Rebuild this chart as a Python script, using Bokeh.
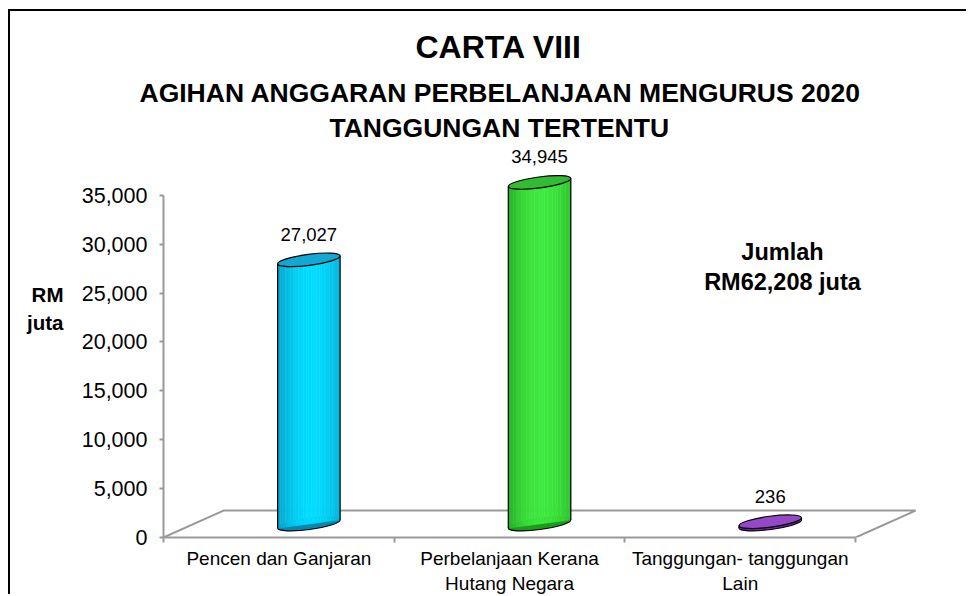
import math
from bokeh.plotting import figure
from bokeh.models import Range1d, FixedTicker, Label, NumeralTickFormatter, Title, LinearAxis
from bokeh.embed import file_html
from bokeh.resources import INLINE
from bokeh.core.properties import value

# ---------------- data ----------------
categories = ["Pencen dan Ganjaran", "Perbelanjaan Kerana\nHutang Negara", "Tanggungan- tanggungan\nLain"]
values = [27027, 34945, 236]
y_ticks = [0, 5000, 10000, 15000, 20000, 25000, 30000, 35000]
title_text = "CARTA VIII"
subtitle_lines = ["AGIHAN ANGGARAN PERBELANJAAN MENGURUS 2020", "TANGGUNGAN TERTENTU"]
unit_text = "RM\njuta"
total_caption = "Jumlah"

# ---------------- styles / geometry ----------------
FONT = "Liberation Sans"
body_dark = ["#0a86ae", "#1c9a1c", "#6a2c98"]
body_light = ["#00dcff", "#3ee83e", "#a060d8"]
cap_colors = ["#12a8d2", "#33bc33", "#9548c8"]
GRAY = "#999999"

OX, OY = 10, 11                 # canvas origin on the page (after margin + border)
W, H = 958, 585
AXIS_X, AXIS_Y0, FRAME_TOP = 163, 538, 145   # page coords
LEFT = AXIS_X - OX
BOTTOM = OY + H - AXIS_Y0
TOP = FRAME_TOP - OY
frame_w = W - LEFT
frame_h = AXIS_Y0 - FRAME_TOP
px_x = 230.7                 # pixels per category
px_y = 343.0 / 35000.0       # pixels per unit of value
x0 = -0.5
x1 = x0 + frame_w / px_x
y1 = frame_h / px_y

depth_dx, depth_dy = 60.0, 27.0     # 3D floor depth in px
cyl_w, cap_h, tilt = 63.0, 11.0, 0.13

def dx(px):
    return px / px_x

def dy(px):
    return px / px_y

p = figure(width=W, height=H, output_backend="svg", toolbar_location=None,
           x_range=Range1d(x0, x1), y_range=Range1d(0, y1),
           min_border_left=LEFT, min_border_bottom=BOTTOM,
           min_border_top=TOP, min_border_right=0)
p.outline_line_color = None
p.xgrid.visible = False
p.ygrid.visible = False
p.background_fill_color = "white"
p.border_fill_color = "white"
p.styles = {"margin-left": "8px", "margin-top": "9px",
            "border-top": "2px solid black", "border-left": "2px solid black"}

# ---------------- titles (added closest-to-plot first) ----------------
p.add_layout(Title(text=subtitle_lines[1], align="left", offset=166, standoff=6,
                   text_font=FONT, text_font_size="26.5px", text_font_style="bold",
                   text_color="black"), "above")
p.add_layout(Title(text=subtitle_lines[0], align="left", offset=-24, standoff=0,
                   text_font=FONT, text_font_size="26.5px", text_font_style="bold",
                   text_color="black"), "above")
p.add_layout(Title(text=title_text, align="left", offset=252, standoff=21,
                   text_font=FONT, text_font_size="32px", text_font_style="bold",
                   text_color="black"), "above")

# ---------------- floor ----------------
n = len(categories)
fx0, fx1 = -0.5, n - 0.5
p.line([fx0, fx0 + dx(depth_dx), fx1 + dx(depth_dx), fx1],
       [0, dy(depth_dy), dy(depth_dy), 0], line_color=GRAY, line_width=2)

# ---------------- cylinders ----------------
def mix(c1, c2, t):
    a = [int(c1[i:i + 2], 16) for i in (1, 3, 5)]
    b = [int(c2[i:i + 2], 16) for i in (1, 3, 5)]
    return "#%02x%02x%02x" % tuple(int(round(a[k] + (b[k] - a[k]) * t)) for k in range(3))

NS = 24
half = cyl_w / 2 * math.cos(tilt)
slope = math.tan(tilt)
xs, ys, cols = [], [], []
centers_x, bases, tops = [], [], []
for i, v in enumerate(values):
    xc = i + dx(depth_dx / 2)
    yb = dy(depth_dy / 2)
    yt = yb + v
    centers_x.append(xc); bases.append(yb); tops.append(yt)
    for j in range(NS):
        u0 = -half + 2 * half * j / NS
        u1 = -half + 2 * half * (j + 1) / NS
        s = (j + 0.5) / NS
        t = max(0.0, 1 - ((s - 0.55) / 0.65) ** 2)
        xs.append([xc + dx(u0), xc + dx(u1), xc + dx(u1), xc + dx(u0)])
        ys.append([yb + dy(u0 * slope), yb + dy(u1 * slope), yt + dy(u1 * slope), yt + dy(u0 * slope)])
        cols.append(mix(body_dark[i], body_light[i], t))

p.ellipse(x=centers_x, y=bases, width=cyl_w, height=cap_h, angle=tilt,
          width_units="screen", height_units="screen",
          fill_color=body_dark, line_color="black", line_width=1.2)
p.patches(xs, ys, fill_color=cols, line_color=cols, line_width=0.5)
lx = [c - dx(half) for c in centers_x]
rx = [c + dx(half) for c in centers_x]
p.segment(x0=lx, y0=[b - dy(half * slope) for b in bases], x1=lx, y1=[t - dy(half * slope) for t in tops],
          line_color="black", line_width=1.2)
p.segment(x0=rx, y0=[b + dy(half * slope) for b in bases], x1=rx, y1=[t + dy(half * slope) for t in tops],
          line_color="black", line_width=1.2)
p.ellipse(x=centers_x, y=tops, width=cyl_w, height=cap_h, angle=tilt,
          width_units="screen", height_units="screen",
          fill_color=cap_colors, line_color="black", line_width=1.2)

p.text(x=centers_x, y=tops, text=[f"{v:,}" for v in values],
       text_align="center", text_baseline="bottom", y_offset=-19,
       text_font=value(FONT), text_font_size="18.5px", text_color="black")

# ---------------- axes ----------------
ya = p.yaxis[0]
ya.ticker = FixedTicker(ticks=y_ticks)
ya.formatter = NumeralTickFormatter(format="0,0")
ya.bounds = (0, max(y_ticks))
ya.axis_line_color = GRAY
ya.axis_line_width = 2
ya.major_tick_line_color = GRAY
ya.major_tick_line_width = 2
ya.major_tick_in = 0
ya.major_tick_out = 4
ya.minor_tick_line_color = None
ya.major_label_text_font = FONT
ya.major_label_text_font_size = "21.5px"
ya.major_label_text_color = "black"
ya.major_label_standoff = 12

# unit caption as a second left axis with a single labelled tick
unit_y = 23400
ua = LinearAxis(ticker=FixedTicker(ticks=[unit_y]), major_label_overrides={unit_y: unit_text},
                axis_line_color=None, major_tick_line_color=None, minor_tick_line_color=None,
                major_label_text_font=FONT, major_label_text_font_size="20.5px",
                major_label_text_font_style="bold", major_label_text_color="black",
                major_label_standoff=9)
p.add_layout(ua, "left")

xa = p.xaxis[0]
xa.ticker = FixedTicker(ticks=list(range(n)), minor_ticks=[k - 0.5 for k in range(n + 1)])
xa.major_label_overrides = {k: c for k, c in enumerate(categories)}
xa.bounds = (fx0, fx1)
xa.axis_line_color = GRAY
xa.axis_line_width = 2
xa.major_tick_line_color = None
xa.minor_tick_line_color = GRAY
xa.minor_tick_line_width = 2
xa.minor_tick_in = 0
xa.minor_tick_out = 5
xa.major_label_text_font = FONT
xa.major_label_text_font_size = "19px"
xa.major_label_text_color = "black"
xa.major_label_standoff = 4

# ---------------- total caption ----------------
def page_to_data(px, py):
    return x0 + (px - AXIS_X) / px_x, (AXIS_Y0 - py) / px_y

total = sum(values)
for k, line in enumerate([total_caption, f"RM{total:,} juta"]):
    tx, ty = page_to_data(782, 252 + 30 * k)
    p.add_layout(Label(x=tx, y=ty, text=line, text_align="center", text_baseline="middle",
                       text_font=FONT, text_font_size="23.5px", text_font_style="bold", text_color="black"))

open("out.html", "w").write(file_html(p, INLINE))
